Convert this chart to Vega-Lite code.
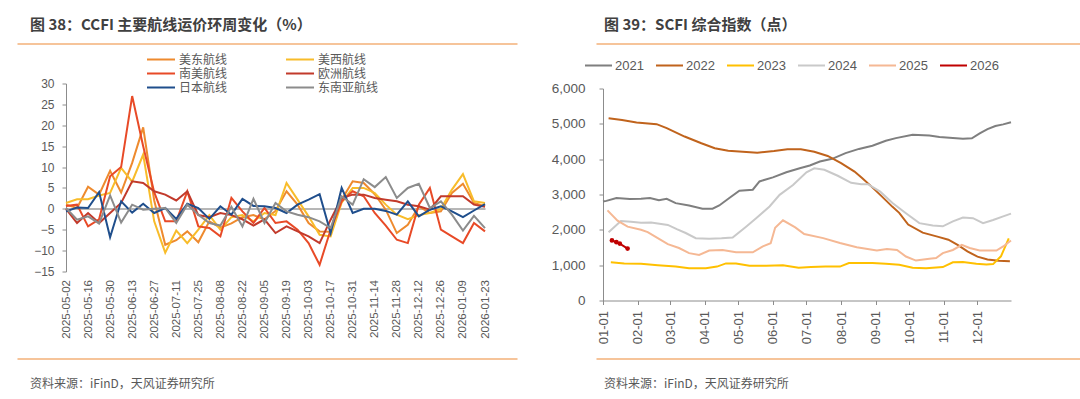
{
"$schema": "https://vega.github.io/schema/vega-lite/v6.json",
"padding": {"left": 15, "top": 17.5, "right": 0, "bottom": 0},
"autosize": {"type": "pad"},
"background": "white",
"columns": 1,
"spacing": 1,
"config": {
  "view": {"stroke": null},
  "font": "Liberation Sans",
  "axis": {"labelFont": "Liberation Sans", "labelColor": "#595959", "domainColor": "#8c8c8c", "tickColor": "#8c8c8c", "grid": false, "tickSize": 4, "labelFontSize": 12},
  "legend": {"labelFont": "Noto Sans CJK SC", "labelColor": "#595959", "labelFontSize": 12},
  "title": {"font": "Noto Sans CJK SC"}
},
"datasets": {
"ccfi": [
{"date":"2025-05-02","route":"美东航线","value":1},{"date":"2025-05-09","route":"美东航线","value":0.2},{"date":"2025-05-16","route":"美东航线","value":5.3},{"date":"2025-05-23","route":"美东航线","value":3.4},{"date":"2025-05-30","route":"美东航线","value":9.1},{"date":"2025-06-06","route":"美东航线","value":3.9},{"date":"2025-06-13","route":"美东航线","value":11},{"date":"2025-06-20","route":"美东航线","value":19.5},{"date":"2025-06-27","route":"美东航线","value":2},{"date":"2025-07-04","route":"美东航线","value":-8.6},{"date":"2025-07-11","route":"美东航线","value":-7.5},{"date":"2025-07-18","route":"美东航线","value":-5.4},{"date":"2025-07-25","route":"美东航线","value":-8},{"date":"2025-08-01","route":"美东航线","value":-3},{"date":"2025-08-08","route":"美东航线","value":-4.5},{"date":"2025-08-15","route":"美东航线","value":-3.5},{"date":"2025-08-22","route":"美东航线","value":-2},{"date":"2025-08-29","route":"美东航线","value":-1.5},{"date":"2025-09-05","route":"美东航线","value":-2.5},{"date":"2025-09-12","route":"美东航线","value":-0.5},{"date":"2025-09-19","route":"美东航线","value":4.2},{"date":"2025-09-26","route":"美东航线","value":1},{"date":"2025-10-03","route":"美东航线","value":-3.4},{"date":"2025-10-10","route":"美东航线","value":-5.4},{"date":"2025-10-17","route":"美东航线","value":-5.5},{"date":"2025-10-24","route":"美东航线","value":2.2},{"date":"2025-10-31","route":"美东航线","value":6.6},{"date":"2025-11-07","route":"美东航线","value":6.2},{"date":"2025-11-14","route":"美东航线","value":3.5},{"date":"2025-11-21","route":"美东航线","value":-0.2},{"date":"2025-11-28","route":"美东航线","value":-5.8},{"date":"2025-12-05","route":"美东航线","value":-3.8},{"date":"2025-12-12","route":"美东航线","value":0.6},{"date":"2025-12-19","route":"美东航线","value":-1},{"date":"2025-12-26","route":"美东航线","value":-0.6},{"date":"2026-01-02","route":"美东航线","value":3.8},{"date":"2026-01-09","route":"美东航线","value":6},{"date":"2026-01-16","route":"美东航线","value":1.4},{"date":"2026-01-23","route":"美东航线","value":0.6},
{"date":"2025-05-02","route":"美西航线","value":1.4},{"date":"2025-05-09","route":"美西航线","value":2.3},{"date":"2025-05-16","route":"美西航线","value":2.3},{"date":"2025-05-23","route":"美西航线","value":3.2},{"date":"2025-05-30","route":"美西航线","value":3.8},{"date":"2025-06-06","route":"美西航线","value":9.8},{"date":"2025-06-13","route":"美西航线","value":6.5},{"date":"2025-06-20","route":"美西航线","value":13},{"date":"2025-06-27","route":"美西航线","value":-3},{"date":"2025-07-04","route":"美西航线","value":-10.5},{"date":"2025-07-11","route":"美西航线","value":-5.2},{"date":"2025-07-18","route":"美西航线","value":-8.2},{"date":"2025-07-25","route":"美西航线","value":-5},{"date":"2025-08-01","route":"美西航线","value":-1.5},{"date":"2025-08-08","route":"美西航线","value":-5},{"date":"2025-08-15","route":"美西航线","value":-2},{"date":"2025-08-22","route":"美西航线","value":-1.5},{"date":"2025-08-29","route":"美西航线","value":-3},{"date":"2025-09-05","route":"美西航线","value":-1},{"date":"2025-09-12","route":"美西航线","value":-1.5},{"date":"2025-09-19","route":"美西航线","value":6.2},{"date":"2025-09-26","route":"美西航线","value":2.2},{"date":"2025-10-03","route":"美西航线","value":-1.8},{"date":"2025-10-10","route":"美西航线","value":-6.2},{"date":"2025-10-17","route":"美西航线","value":-6.6},{"date":"2025-10-24","route":"美西航线","value":1.5},{"date":"2025-10-31","route":"美西航线","value":5},{"date":"2025-11-07","route":"美西航线","value":5},{"date":"2025-11-14","route":"美西航线","value":3.8},{"date":"2025-11-21","route":"美西航线","value":1},{"date":"2025-11-28","route":"美西航线","value":-1.4},{"date":"2025-12-05","route":"美西航线","value":-2.5},{"date":"2025-12-12","route":"美西航线","value":-1.5},{"date":"2025-12-19","route":"美西航线","value":-1},{"date":"2025-12-26","route":"美西航线","value":0},{"date":"2026-01-02","route":"美西航线","value":4.6},{"date":"2026-01-09","route":"美西航线","value":8.3},{"date":"2026-01-16","route":"美西航线","value":1.8},{"date":"2026-01-23","route":"美西航线","value":1.4},
{"date":"2025-05-02","route":"南美航线","value":0.7},{"date":"2025-05-09","route":"南美航线","value":1},{"date":"2025-05-16","route":"南美航线","value":-4.2},{"date":"2025-05-23","route":"南美航线","value":-2.5},{"date":"2025-05-30","route":"南美航线","value":7.8},{"date":"2025-06-06","route":"南美航线","value":10},{"date":"2025-06-13","route":"南美航线","value":27},{"date":"2025-06-20","route":"南美航线","value":15},{"date":"2025-06-27","route":"南美航线","value":4},{"date":"2025-07-04","route":"南美航线","value":-3},{"date":"2025-07-11","route":"南美航线","value":-3},{"date":"2025-07-18","route":"南美航线","value":4.2},{"date":"2025-07-25","route":"南美航线","value":-4.2},{"date":"2025-08-01","route":"南美航线","value":-4.6},{"date":"2025-08-08","route":"南美航线","value":-6.6},{"date":"2025-08-15","route":"南美航线","value":2.6},{"date":"2025-08-22","route":"南美航线","value":-0.6},{"date":"2025-08-29","route":"南美航线","value":-3.4},{"date":"2025-09-05","route":"南美航线","value":0.2},{"date":"2025-09-12","route":"南美航线","value":-3.4},{"date":"2025-09-19","route":"南美航线","value":-3},{"date":"2025-09-26","route":"南美航线","value":-5},{"date":"2025-10-03","route":"南美航线","value":-8.2},{"date":"2025-10-10","route":"南美航线","value":-13.4},{"date":"2025-10-17","route":"南美航线","value":-5},{"date":"2025-10-24","route":"南美航线","value":1.8},{"date":"2025-10-31","route":"南美航线","value":4.2},{"date":"2025-11-07","route":"南美航线","value":3},{"date":"2025-11-14","route":"南美航线","value":-1},{"date":"2025-11-21","route":"南美航线","value":-4},{"date":"2025-11-28","route":"南美航线","value":-7.4},{"date":"2025-12-05","route":"南美航线","value":-8.2},{"date":"2025-12-12","route":"南美航线","value":1},{"date":"2025-12-19","route":"南美航线","value":5},{"date":"2025-12-26","route":"南美航线","value":-5},{"date":"2026-01-02","route":"南美航线","value":-6.6},{"date":"2026-01-09","route":"南美航线","value":-8.2},{"date":"2026-01-16","route":"南美航线","value":-3.4},{"date":"2026-01-23","route":"南美航线","value":-5.4},
{"date":"2025-05-02","route":"欧洲航线","value":0},{"date":"2025-05-09","route":"欧洲航线","value":-3.4},{"date":"2025-05-16","route":"欧洲航线","value":-1},{"date":"2025-05-23","route":"欧洲航线","value":-3.4},{"date":"2025-05-30","route":"欧洲航线","value":-1},{"date":"2025-06-06","route":"欧洲航线","value":1.4},{"date":"2025-06-13","route":"欧洲航线","value":6.6},{"date":"2025-06-20","route":"欧洲航线","value":6.2},{"date":"2025-06-27","route":"欧洲航线","value":4.2},{"date":"2025-07-04","route":"欧洲航线","value":3.4},{"date":"2025-07-11","route":"欧洲航线","value":2},{"date":"2025-07-18","route":"欧洲航线","value":4.2},{"date":"2025-07-25","route":"欧洲航线","value":-1.5},{"date":"2025-08-01","route":"欧洲航线","value":-2},{"date":"2025-08-08","route":"欧洲航线","value":-1},{"date":"2025-08-15","route":"欧洲航线","value":-1.5},{"date":"2025-08-22","route":"欧洲航线","value":-2.5},{"date":"2025-08-29","route":"欧洲航线","value":-4},{"date":"2025-09-05","route":"欧洲航线","value":-2.5},{"date":"2025-09-12","route":"欧洲航线","value":-5.8},{"date":"2025-09-19","route":"欧洲航线","value":-4.2},{"date":"2025-09-26","route":"欧洲航线","value":-5.4},{"date":"2025-10-03","route":"欧洲航线","value":-6.6},{"date":"2025-10-10","route":"欧洲航线","value":-8.2},{"date":"2025-10-17","route":"欧洲航线","value":-2.6},{"date":"2025-10-24","route":"欧洲航线","value":2.6},{"date":"2025-10-31","route":"欧洲航线","value":3.4},{"date":"2025-11-07","route":"欧洲航线","value":3.4},{"date":"2025-11-14","route":"欧洲航线","value":2.6},{"date":"2025-11-21","route":"欧洲航线","value":2.2},{"date":"2025-11-28","route":"欧洲航线","value":1.8},{"date":"2025-12-05","route":"欧洲航线","value":1},{"date":"2025-12-12","route":"欧洲航线","value":0.6},{"date":"2025-12-19","route":"欧洲航线","value":-0.2},{"date":"2025-12-26","route":"欧洲航线","value":3},{"date":"2026-01-02","route":"欧洲航线","value":3},{"date":"2026-01-09","route":"欧洲航线","value":3},{"date":"2026-01-16","route":"欧洲航线","value":1},{"date":"2026-01-23","route":"欧洲航线","value":0.5},
{"date":"2025-05-02","route":"日本航线","value":-0.6},{"date":"2025-05-09","route":"日本航线","value":0.3},{"date":"2025-05-16","route":"日本航线","value":0.2},{"date":"2025-05-23","route":"日本航线","value":4},{"date":"2025-05-30","route":"日本航线","value":-6.8},{"date":"2025-06-06","route":"日本航线","value":1.8},{"date":"2025-06-13","route":"日本航线","value":-0.9},{"date":"2025-06-20","route":"日本航线","value":1.2},{"date":"2025-06-27","route":"日本航线","value":-1},{"date":"2025-07-04","route":"日本航线","value":0.2},{"date":"2025-07-11","route":"日本航线","value":-2.4},{"date":"2025-07-18","route":"日本航线","value":1.2},{"date":"2025-07-25","route":"日本航线","value":0.2},{"date":"2025-08-01","route":"日本航线","value":-2.4},{"date":"2025-08-08","route":"日本航线","value":0.6},{"date":"2025-08-15","route":"日本航线","value":-1.4},{"date":"2025-08-22","route":"日本航线","value":2.4},{"date":"2025-08-29","route":"日本航线","value":0.7},{"date":"2025-09-05","route":"日本航线","value":0.6},{"date":"2025-09-12","route":"日本航线","value":0.2},{"date":"2025-09-19","route":"日本航线","value":-1},{"date":"2025-09-26","route":"日本航线","value":1},{"date":"2025-10-03","route":"日本航线","value":2.2},{"date":"2025-10-10","route":"日本航线","value":3.5},{"date":"2025-10-17","route":"日本航线","value":-5.8},{"date":"2025-10-24","route":"日本航线","value":5},{"date":"2025-10-31","route":"日本航线","value":-1},{"date":"2025-11-07","route":"日本航线","value":0},{"date":"2025-11-14","route":"日本航线","value":0},{"date":"2025-11-21","route":"日本航线","value":-0.5},{"date":"2025-11-28","route":"日本航线","value":-1.4},{"date":"2025-12-05","route":"日本航线","value":1.8},{"date":"2025-12-12","route":"日本航线","value":-1.8},{"date":"2025-12-19","route":"日本航线","value":-0.2},{"date":"2025-12-26","route":"日本航线","value":0.6},{"date":"2026-01-02","route":"日本航线","value":-0.6},{"date":"2026-01-09","route":"日本航线","value":-2},{"date":"2026-01-16","route":"日本航线","value":-0.4},{"date":"2026-01-23","route":"日本航线","value":1.1},
{"date":"2025-05-02","route":"东南亚航线","value":0.2},{"date":"2025-05-09","route":"东南亚航线","value":-2.6},{"date":"2025-05-16","route":"东南亚航线","value":-1.8},{"date":"2025-05-23","route":"东南亚航线","value":-3.5},{"date":"2025-05-30","route":"东南亚航线","value":3.2},{"date":"2025-06-06","route":"东南亚航线","value":-3.3},{"date":"2025-06-13","route":"东南亚航线","value":1},{"date":"2025-06-20","route":"东南亚航线","value":-0.2},{"date":"2025-06-27","route":"东南亚航线","value":0},{"date":"2025-07-04","route":"东南亚航线","value":0.2},{"date":"2025-07-11","route":"东南亚航线","value":-3.4},{"date":"2025-07-18","route":"东南亚航线","value":1},{"date":"2025-07-25","route":"东南亚航线","value":-1.4},{"date":"2025-08-01","route":"东南亚航线","value":-3.4},{"date":"2025-08-08","route":"东南亚航线","value":-4},{"date":"2025-08-15","route":"东南亚航线","value":0.5},{"date":"2025-08-22","route":"东南亚航线","value":-4.2},{"date":"2025-08-29","route":"东南亚航线","value":2.4},{"date":"2025-09-05","route":"东南亚航线","value":-3.4},{"date":"2025-09-12","route":"东南亚航线","value":1.4},{"date":"2025-09-19","route":"东南亚航线","value":-0.6},{"date":"2025-09-26","route":"东南亚航线","value":-1.4},{"date":"2025-10-03","route":"东南亚航线","value":-2},{"date":"2025-10-10","route":"东南亚航线","value":-3},{"date":"2025-10-17","route":"东南亚航线","value":-4.6},{"date":"2025-10-24","route":"东南亚航线","value":3},{"date":"2025-10-31","route":"东南亚航线","value":1},{"date":"2025-11-07","route":"东南亚航线","value":7.1},{"date":"2025-11-14","route":"东南亚航线","value":5.2},{"date":"2025-11-21","route":"东南亚航线","value":7.6},{"date":"2025-11-28","route":"东南亚航线","value":2.6},{"date":"2025-12-05","route":"东南亚航线","value":5},{"date":"2025-12-12","route":"东南亚航线","value":6},{"date":"2025-12-19","route":"东南亚航线","value":0.2},{"date":"2025-12-26","route":"东南亚航线","value":1.8},{"date":"2026-01-02","route":"东南亚航线","value":-1.4},{"date":"2026-01-09","route":"东南亚航线","value":-5.2},{"date":"2026-01-16","route":"东南亚航线","value":-1.7},{"date":"2026-01-23","route":"东南亚航线","value":-4.6}
],
"scfi": [
{"year":"2021","date":"2021-01-01","value":2800},{"year":"2021","date":"2021-01-04","value":2820},{"year":"2021","date":"2021-01-13","value":2900},{"year":"2021","date":"2021-01-25","value":2870},{"year":"2021","date":"2021-02-04","value":2880},{"year":"2021","date":"2021-02-12","value":2900},{"year":"2021","date":"2021-02-20","value":2840},{"year":"2021","date":"2021-02-27","value":2880},{"year":"2021","date":"2021-03-06","value":2755},{"year":"2021","date":"2021-03-18","value":2690},{"year":"2021","date":"2021-03-30","value":2595},{"year":"2021","date":"2021-04-08","value":2600},{"year":"2021","date":"2021-04-14","value":2690},{"year":"2021","date":"2021-04-23","value":2900},{"year":"2021","date":"2021-05-02","value":3105},{"year":"2021","date":"2021-05-14","value":3135},{"year":"2021","date":"2021-05-20","value":3370},{"year":"2021","date":"2021-06-01","value":3485},{"year":"2021","date":"2021-06-13","value":3630},{"year":"2021","date":"2021-06-25","value":3745},{"year":"2021","date":"2021-07-04","value":3820},{"year":"2021","date":"2021-07-13","value":3935},{"year":"2021","date":"2021-07-24","value":4010},{"year":"2021","date":"2021-08-05","value":4170},{"year":"2021","date":"2021-08-17","value":4290},{"year":"2021","date":"2021-08-29","value":4380},{"year":"2021","date":"2021-09-10","value":4520},{"year":"2021","date":"2021-09-19","value":4595},{"year":"2021","date":"2021-10-04","value":4690},{"year":"2021","date":"2021-10-19","value":4670},{"year":"2021","date":"2021-10-28","value":4625},{"year":"2021","date":"2021-11-18","value":4575},{"year":"2021","date":"2021-11-26","value":4590},{"year":"2021","date":"2021-12-03","value":4727},{"year":"2021","date":"2021-12-10","value":4850},{"year":"2021","date":"2021-12-17","value":4940},{"year":"2021","date":"2021-12-24","value":4985},{"year":"2021","date":"2021-12-31","value":5047},
{"year":"2022","date":"2022-01-06","value":5160},{"year":"2022","date":"2022-01-18","value":5110},{"year":"2022","date":"2022-01-31","value":5040},{"year":"2022","date":"2022-02-18","value":4990},{"year":"2022","date":"2022-02-27","value":4880},{"year":"2022","date":"2022-03-14","value":4640},{"year":"2022","date":"2022-03-29","value":4450},{"year":"2022","date":"2022-04-10","value":4310},{"year":"2022","date":"2022-04-22","value":4240},{"year":"2022","date":"2022-05-05","value":4210},{"year":"2022","date":"2022-05-18","value":4180},{"year":"2022","date":"2022-06-02","value":4230},{"year":"2022","date":"2022-06-14","value":4280},{"year":"2022","date":"2022-06-26","value":4280},{"year":"2022","date":"2022-07-08","value":4210},{"year":"2022","date":"2022-07-20","value":4090},{"year":"2022","date":"2022-08-01","value":3890},{"year":"2022","date":"2022-08-13","value":3650},{"year":"2022","date":"2022-08-20","value":3460},{"year":"2022","date":"2022-08-28","value":3230},{"year":"2022","date":"2022-09-05","value":2990},{"year":"2022","date":"2022-09-16","value":2650},{"year":"2022","date":"2022-09-22","value":2480},{"year":"2022","date":"2022-09-30","value":2150},{"year":"2022","date":"2022-10-13","value":1920},{"year":"2022","date":"2022-10-27","value":1800},{"year":"2022","date":"2022-11-05","value":1720},{"year":"2022","date":"2022-11-14","value":1560},{"year":"2022","date":"2022-11-22","value":1390},{"year":"2022","date":"2022-12-01","value":1240},{"year":"2022","date":"2022-12-10","value":1160},{"year":"2022","date":"2022-12-20","value":1125},{"year":"2022","date":"2022-12-30","value":1108},
{"year":"2023","date":"2023-01-08","value":1085},{"year":"2023","date":"2023-01-20","value":1050},{"year":"2023","date":"2023-02-04","value":1040},{"year":"2023","date":"2023-02-19","value":1000},{"year":"2023","date":"2023-03-06","value":960},{"year":"2023","date":"2023-03-18","value":915},{"year":"2023","date":"2023-04-02","value":915},{"year":"2023","date":"2023-04-12","value":960},{"year":"2023","date":"2023-04-20","value":1050},{"year":"2023","date":"2023-04-29","value":1050},{"year":"2023","date":"2023-05-11","value":985},{"year":"2023","date":"2023-05-26","value":985},{"year":"2023","date":"2023-06-10","value":1000},{"year":"2023","date":"2023-06-24","value":930},{"year":"2023","date":"2023-07-05","value":945},{"year":"2023","date":"2023-07-18","value":960},{"year":"2023","date":"2023-07-31","value":960},{"year":"2023","date":"2023-08-08","value":1060},{"year":"2023","date":"2023-08-29","value":1060},{"year":"2023","date":"2023-09-10","value":1040},{"year":"2023","date":"2023-09-22","value":1010},{"year":"2023","date":"2023-10-04","value":930},{"year":"2023","date":"2023-10-16","value":915},{"year":"2023","date":"2023-10-31","value":945},{"year":"2023","date":"2023-11-09","value":1080},{"year":"2023","date":"2023-11-18","value":1090},{"year":"2023","date":"2023-11-30","value":1040},{"year":"2023","date":"2023-12-09","value":1020},{"year":"2023","date":"2023-12-15","value":1030},{"year":"2023","date":"2023-12-22","value":1250},{"year":"2023","date":"2023-12-29","value":1760},
{"year":"2024","date":"2024-01-06","value":1930},{"year":"2024","date":"2024-01-17","value":2250},{"year":"2024","date":"2024-01-26","value":2230},{"year":"2024","date":"2024-02-04","value":2200},{"year":"2024","date":"2024-02-13","value":2210},{"year":"2024","date":"2024-02-28","value":2140},{"year":"2024","date":"2024-03-07","value":2020},{"year":"2024","date":"2024-03-15","value":1910},{"year":"2024","date":"2024-03-24","value":1765},{"year":"2024","date":"2024-04-05","value":1750},{"year":"2024","date":"2024-04-16","value":1760},{"year":"2024","date":"2024-04-26","value":1780},{"year":"2024","date":"2024-05-08","value":2090},{"year":"2024","date":"2024-05-17","value":2330},{"year":"2024","date":"2024-05-29","value":2660},{"year":"2024","date":"2024-06-07","value":2990},{"year":"2024","date":"2024-06-19","value":3270},{"year":"2024","date":"2024-07-01","value":3630},{"year":"2024","date":"2024-07-08","value":3740},{"year":"2024","date":"2024-07-17","value":3700},{"year":"2024","date":"2024-07-29","value":3530},{"year":"2024","date":"2024-08-10","value":3330},{"year":"2024","date":"2024-08-19","value":3290},{"year":"2024","date":"2024-08-25","value":3290},{"year":"2024","date":"2024-09-05","value":3080},{"year":"2024","date":"2024-09-16","value":2760},{"year":"2024","date":"2024-09-28","value":2470},{"year":"2024","date":"2024-10-10","value":2190},{"year":"2024","date":"2024-10-22","value":2120},{"year":"2024","date":"2024-10-31","value":2100},{"year":"2024","date":"2024-11-09","value":2240},{"year":"2024","date":"2024-11-18","value":2350},{"year":"2024","date":"2024-11-27","value":2330},{"year":"2024","date":"2024-12-06","value":2190},{"year":"2024","date":"2024-12-15","value":2280},{"year":"2024","date":"2024-12-24","value":2380},{"year":"2024","date":"2024-12-31","value":2460},
{"year":"2025","date":"2025-01-05","value":2550},{"year":"2025","date":"2025-01-14","value":2260},{"year":"2025","date":"2025-01-23","value":2090},{"year":"2025","date":"2025-02-04","value":2000},{"year":"2025","date":"2025-02-10","value":1935},{"year":"2025","date":"2025-02-19","value":1765},{"year":"2025","date":"2025-02-28","value":1595},{"year":"2025","date":"2025-03-09","value":1485},{"year":"2025","date":"2025-03-18","value":1340},{"year":"2025","date":"2025-03-27","value":1290},{"year":"2025","date":"2025-04-05","value":1415},{"year":"2025","date":"2025-04-17","value":1430},{"year":"2025","date":"2025-04-29","value":1365},{"year":"2025","date":"2025-05-14","value":1365},{"year":"2025","date":"2025-05-23","value":1530},{"year":"2025","date":"2025-05-30","value":1620},{"year":"2025","date":"2025-06-03","value":2060},{"year":"2025","date":"2025-06-10","value":2270},{"year":"2025","date":"2025-06-21","value":2070},{"year":"2025","date":"2025-06-29","value":1880},{"year":"2025","date":"2025-07-16","value":1765},{"year":"2025","date":"2025-07-31","value":1625},{"year":"2025","date":"2025-08-15","value":1510},{"year":"2025","date":"2025-09-02","value":1415},{"year":"2025","date":"2025-09-11","value":1460},{"year":"2025","date":"2025-09-20","value":1430},{"year":"2025","date":"2025-09-28","value":1245},{"year":"2025","date":"2025-10-07","value":1130},{"year":"2025","date":"2025-10-19","value":1180},{"year":"2025","date":"2025-10-25","value":1200},{"year":"2025","date":"2025-10-31","value":1340},{"year":"2025","date":"2025-11-09","value":1430},{"year":"2025","date":"2025-11-17","value":1575},{"year":"2025","date":"2025-11-24","value":1485},{"year":"2025","date":"2025-12-03","value":1415},{"year":"2025","date":"2025-12-18","value":1415},{"year":"2025","date":"2025-12-24","value":1530},{"year":"2025","date":"2025-12-31","value":1700},
{"year":"2026","date":"2026-01-09","value":1700},{"year":"2026","date":"2026-01-13","value":1650},{"year":"2026","date":"2026-01-16","value":1610},{"year":"2026","date":"2026-01-23","value":1470}
]
},
"concat": [
{
  "spacing": 30,
  "hconcat": [
    {
      "width": 451, "height": 2,
      "title": {"text": "图 38：CCFI 主要航线运价环周变化（%）", "anchor": "start", "frame": "group", "dx": -36, "offset": 3.5, "fontSize": 15, "fontWeight": "bold", "color": "#404040", "font": "Noto Sans CJK SC"},
      "data": {"values": [{"t": "", "v": 0}]},
      "mark": {"type": "text"},
      "encoding": {
        "text": {"field": "t", "type": "nominal"},
        "x": {"field": "v", "type": "quantitative", "scale": {"domain": [0, 1], "range": [-49, 451]},
              "axis": {"orient": "bottom", "domainColor": "#F6C49A", "domainWidth": 2, "ticks": false, "labels": false, "title": null, "grid": false}}
      }
    },
    {
      "width": 520, "height": 2,
      "title": {"text": "图 39：SCFI 综合指数（点）", "anchor": "start", "frame": "group", "dx": 8, "offset": 3.5, "fontSize": 15, "fontWeight": "bold", "color": "#404040", "font": "Noto Sans CJK SC"},
      "data": {"values": [{"t": "", "v": 0}]},
      "mark": {"type": "text"},
      "encoding": {
        "text": {"field": "t", "type": "nominal"},
        "x": {"field": "v", "type": "quantitative", "scale": {"domain": [0, 1]},
              "axis": {"orient": "bottom", "domainColor": "#F6C49A", "domainWidth": 2, "ticks": false, "labels": false, "title": null, "grid": false}}
      }
    }
  ]
},
{
  "columns": 2,
  "spacing": 52,
  "align": "none",
  "resolve": {"scale": {"color": "independent"}, "legend": {"color": "independent"}},
  "concat": [
    {
      "width": 419, "height": 188,
      "data": {"name": "ccfi"},
      "mark": {"type": "line", "strokeWidth": 2},
      "encoding": {
        "x": {"field": "date", "type": "ordinal", "scale": {"type": "point", "padding": 0},
              "axis": {"values": ["2025-05-02","2025-05-16","2025-05-30","2025-06-13","2025-06-27","2025-07-11","2025-07-25","2025-08-08","2025-08-22","2025-09-05","2025-09-19","2025-10-03","2025-10-17","2025-10-31","2025-11-14","2025-11-28","2025-12-12","2025-12-26","2026-01-09","2026-01-23"],
                       "labelAngle": -90, "domain": false, "ticks": false, "labelPadding": 3, "labelFontSize": 11.5,
                       "title": "\u00a0", "titleFontSize": 1, "titlePadding": 12.5}},
        "y": {"field": "value", "type": "quantitative", "scale": {"domain": [-15, 30], "nice": false, "zero": false, "range": [183, -5]},
              "axis": {"values": [-15,-10,-5,0,5,10,15,20,25,30], "title": "\u00a0", "titleFontSize": 1, "titlePadding": 17, "labelPadding": 8,
                       "grid": true, "gridColor": "#6e6e6e", "gridWidth": 1, "gridOpacity": {"condition": {"test": "datum.value === 0", "value": 1}, "value": 0}}},
        "color": {"field": "route", "type": "nominal",
                  "scale": {"domain": ["美东航线","美西航线","南美航线","欧洲航线","日本航线","东南亚航线"], "range": ["#EE8A2E","#F8BC2A","#E84A27","#C23A2B","#1F4E8C","#8C8C8C"]},
                  "legend": {"title": null, "orient": "none", "legendX": 80, "legendY": -36, "direction": "horizontal", "columns": 2, "columnPadding": 57, "rowPadding": 0, "clipHeight": 14, "padding": 0, "symbolType": "stroke", "symbolSize": 784, "symbolStrokeWidth": 2, "labelOffset": 3}}
      }
    },
    {
      "width": 408, "height": 212,
      "data": {"name": "scfi"},
      "encoding": {
        "x": {"field": "date", "type": "temporal", "timeUnit": "utcmonthdate",
              "scale": {"domain": [{"year": 2012, "month": 1, "date": 1, "utc": true}, {"year": 2012, "month": 12, "date": 31, "utc": true}]},
              "axis": {"values": [{"year":2012,"month":1,"date":1,"utc":true},{"year":2012,"month":2,"date":1,"utc":true},{"year":2012,"month":3,"date":1,"utc":true},{"year":2012,"month":4,"date":1,"utc":true},{"year":2012,"month":5,"date":1,"utc":true},{"year":2012,"month":6,"date":1,"utc":true},{"year":2012,"month":7,"date":1,"utc":true},{"year":2012,"month":8,"date":1,"utc":true},{"year":2012,"month":9,"date":1,"utc":true},{"year":2012,"month":10,"date":1,"utc":true},{"year":2012,"month":11,"date":1,"utc":true},{"year":2012,"month":12,"date":1,"utc":true}],
                       "labelExpr": "utcFormat(datum.value, '%m-%d')", "labelAngle": -90, "title": null, "labelFontSize": 13, "labelPadding": 6}},
        "y": {"field": "value", "type": "quantitative", "scale": {"domain": [0, 6000], "nice": false},
              "axis": {"values": [0,1000,2000,3000,4000,5000,6000], "format": ",.0f", "title": "\u00a0", "titleFontSize": 1, "titlePadding": 7, "labelPadding": 14, "labelFontSize": 13.5}}
      },
      "layer": [
        {
          "mark": {"type": "line", "strokeWidth": 2},
          "encoding": {
            "color": {"field": "year", "type": "nominal",
                      "scale": {"domain": ["2021","2022","2023","2024","2025","2026"], "range": ["#7F7F7F","#C0631C","#FFC000","#C9C9C9","#F5B894","#C00000"]},
                      "legend": {"title": null, "orient": "none", "legendX": -29, "legendY": -40, "padding": 10, "clipHeight": 14, "direction": "horizontal", "columnPadding": 11, "symbolType": "stroke", "symbolSize": 729, "symbolStrokeWidth": 2, "labelOffset": 2, "labelFont": "Liberation Sans", "labelFontSize": 13}}
          }
        },
        {
          "transform": [{"filter": "datum.year === '2026'"}],
          "mark": {"type": "point", "filled": true, "size": 22, "color": "#C00000", "opacity": 1}
        }
      ]
    }
  ]
},
{
  "spacing": 30,
  "hconcat": [
    {
      "width": 451, "height": 2,
      "title": {"text": "资料来源：iFinD，天风证券研究所", "orient": "bottom", "anchor": "start", "frame": "group", "dx": -36, "offset": 14, "fontSize": 12, "fontWeight": "normal", "color": "#595959", "font": "Noto Sans CJK SC"},
      "data": {"values": [{"t": "", "v": 0}]},
      "mark": {"type": "text"},
      "encoding": {
        "text": {"field": "t", "type": "nominal"},
        "x": {"field": "v", "type": "quantitative", "scale": {"domain": [0, 1], "range": [-49, 451]},
              "axis": {"orient": "top", "domainColor": "#F6C49A", "domainWidth": 2, "ticks": false, "labels": false, "title": null, "grid": false}}
      }
    },
    {
      "width": 520, "height": 2,
      "title": {"text": "资料来源：iFinD，天风证券研究所", "orient": "bottom", "anchor": "start", "frame": "group", "dx": 8, "offset": 14, "fontSize": 12, "fontWeight": "normal", "color": "#595959", "font": "Noto Sans CJK SC"},
      "data": {"values": [{"t": "", "v": 0}]},
      "mark": {"type": "text"},
      "encoding": {
        "text": {"field": "t", "type": "nominal"},
        "x": {"field": "v", "type": "quantitative", "scale": {"domain": [0, 1]},
              "axis": {"orient": "top", "domainColor": "#F6C49A", "domainWidth": 2, "ticks": false, "labels": false, "title": null, "grid": false}}
      }
    }
  ]
}
]
}
